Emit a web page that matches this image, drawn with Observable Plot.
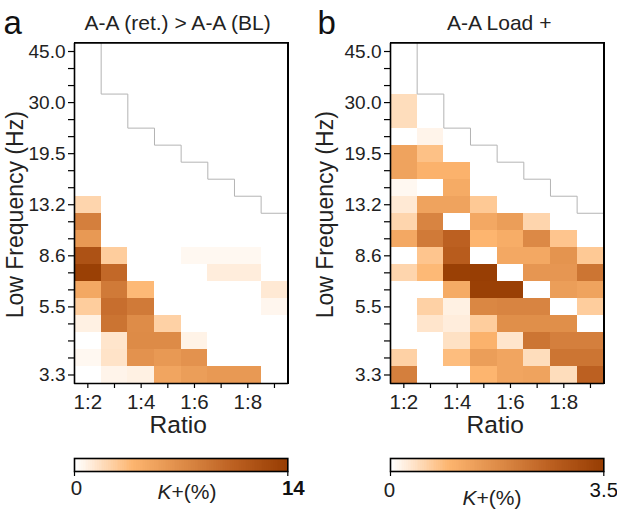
<!DOCTYPE html>
<html><head><meta charset="utf-8">
<script src="https://cdn.jsdelivr.net/npm/d3@7"></script>
<script src="https://cdn.jsdelivr.net/npm/@observablehq/plot@0.6"></script>
<style>
html,body{margin:0;padding:0;background:#fff}
#root{position:relative;width:617px;height:511px;overflow:hidden;font-family:"Liberation Sans",Arial,sans-serif;color:#222}
#root>svg,#root>div{position:absolute}
.klabel{font-size:21px;white-space:nowrap;transform:translateX(-50%)}
.pframe{box-sizing:border-box;border:1.6px solid #000;width:214.9px;height:342.1px;top:42.2px;pointer-events:none}
</style></head><body><div id="root"></div>
<script>
const ratios = [2,3,4,5,6,7,8,9];
const ratioLabels = {2:"1:2",4:"1:4",6:"1:6",8:"1:8"};
const rowTicks = d3.range(0,20);
const rowLabels = {0:"3.3",4:"5.5",7:"8.6",10:"13.2",13:"19.5",16:"30.0",19:"45.0"};
// highest valid row per ratio (staircase boundary)
const boundary = [19,16,14,13,12,11,10,9];

// rows bottom (3.3 Hz) to top, columns 1:2 ... 1:9
const gridA = [
 [0,0.6,0.8,5.0,5.6,6.0,6.0,0],
 [0.4,1.5,6.5,6.0,6.5,0,0,0],
 [0,1.4,7.1,7.1,0.7,0,0,0],
 [0.8,8.9,7.0,2.4,0,0,0,0],
 [2.6,9.3,8.4,0,0,0,0,0.5],
 [4.8,8.4,3.6,0,0,0,0,1.2],
 [13.6,9.8,0,0,0,1.0,1.0,0],
 [11.8,2.6,0,0,0.4,0.4,0.4,0],
 [6.0,0,0,0,0,0,0,0],
 [8.0,0,0,0,0,0,0,0],
 [2.2,0,0,0,0,0,0,0]
];
const gridB = [
 [2.0,0,0,0.95,1.25,1.3,0.45,2.6],
 [0.6,0,0.85,1.4,1.25,0.45,2.2,2.2],
 [0,0,0.4,1.0,0.35,2.2,2.0,2.0],
 [0,0.35,0.25,0.65,1.7,1.7,1.7,0],
 [0,0.6,0.2,1.85,1.9,1.9,0,0.65],
 [0,0,1.15,3.4,3.4,0,1.4,1.3],
 [0.55,0.9,3.4,3.45,0,1.55,1.55,2.2],
 [0,0.75,2.7,0,1.2,1.2,1.6,0.7],
 [1.2,2.1,2.6,0.95,1.1,1.8,0.75,0],
 [0.55,1.9,0,1.2,1.4,0.55,0,0],
 [0.3,1.3,1.3,0.7,0,0,0,0],
 [0.1,0,1.15,0,0,0,0,0],
 [1.3,1.0,1.0,0,0,0,0,0],
 [1.3,0.8,0,0,0,0,0,0],
 [0,0.15,0,0,0,0,0,0],
 [0.45,0,0,0,0,0,0,0],
 [0.45,0,0,0,0,0,0,0]
];
const colorStops = [0,0.06,0.27,0.5,0.75,1];
const colorValues = ["#ffffff","#fff0e2","#fdb56f","#de8c48","#bb5f20","#963c02"];
const FONT = "Liberation Sans";
const INK = "#222";
const xEnds = [1.5,9.5];
const yEnds = [-0.5,19.5];
const border = [[xEnds[0],yEnds[0]],[xEnds[1],yEnds[0]],[xEnds[1],yEnds[1]],[xEnds[0],yEnds[1]],[xEnds[0],yEnds[0]]];

function cells(grid){
  return grid.flatMap((row,r)=>row.map((v,c)=>({r,ratio:ratios[c],v})));
}
function stairs(){
  const pts=[[ratios[1]-0.5,19.5]];
  boundary.slice(1).forEach((b,i)=>{
    pts.push([ratios[i+1]-0.5,b+0.5]);
    pts.push([ratios[i+1]+0.5,b+0.5]);
  });
  return pts;
}
function panel(grid,max,title,letter,left,marginLeft,letterX,titleDx,ratioDx){
  const w=307;
  const chart = Plot.plot({
    width:w,height:440,marginLeft,marginRight:w-marginLeft-213.3,marginTop:42.5,marginBottom:57,
    style:{fontFamily:FONT,background:"transparent",overflow:"visible"},
    x:{type:"linear",domain:xEnds,axis:null},
    y:{type:"linear",domain:yEnds,axis:null},
    color:{type:"linear",domain:colorStops.map(s=>s*max),range:colorValues,interpolate:"rgb",clamp:true},
    marks:[
      Plot.rect(cells(grid).filter(d=>d.v>0),{
        x1:d=>d.ratio-0.5,x2:d=>d.ratio+0.5,y1:d=>d.r-0.5,y2:d=>d.r+0.5,fill:"v",shapeRendering:"crispEdges"}),
      Plot.line(stairs(),{x:d=>d[0],y:d=>d[1],stroke:"#b4b4b4",strokeWidth:1}),
      Plot.line(border,{x:d=>d[0],y:d=>d[1],stroke:"#000",strokeWidth:1.6,strokeLinejoin:"miter"}),
      Plot.axisX(ratios,{anchor:"bottom",tickSize:5,tickPadding:6,tickFormat:d=>ratioLabels[d]||"",fontSize:20.5,stroke:"#000",strokeWidth:1.2,label:null,color:INK}),
      Plot.axisY(rowTicks,{anchor:"left",tickSize:6,tickPadding:3,tickFormat:d=>rowLabels[d]||"",fontSize:19,stroke:"#000",strokeWidth:1.2,label:null,color:INK}),
      Plot.text(["Ratio"],{frameAnchor:"bottom",dx:ratioDx,dy:42,fontSize:24.5,fill:INK,lineAnchor:"middle"}),
      Plot.text(["Low Frequency (Hz)"],{frameAnchor:"left",textAnchor:"middle",dx:-marginLeft+15,dy:1.5,rotate:-90,fontSize:23,fill:INK}),
      Plot.text([title],{frameAnchor:"top",dx:titleDx,dy:-20,fontSize:21,fill:INK,lineAnchor:"middle"}),
      Plot.text([letter],{frameAnchor:"top-left",dx:letterX,dy:-20,fontSize:33,fill:"#111",lineAnchor:"middle",textAnchor:"start"})
    ]
  });
  chart.style.left=left+"px";chart.style.top="0px";
  return chart;
}
function bar(max,maxLabel,maxWeight,left,marginLeft,labelDy,midX,midY){
  const steps=d3.range(0,1,1/120).map(t=>({t}));
  const chart=Plot.plot({
    width:307,height:61,marginLeft,marginRight:307-marginLeft-213.3,marginTop:18,marginBottom:30,
    style:{fontFamily:FONT,background:"transparent",overflow:"visible"},
    x:{type:"linear",domain:[0,max],axis:null},
    y:{axis:null,domain:[0,1]},
    color:{type:"linear",domain:colorStops.map(s=>s*max),range:colorValues,interpolate:"rgb"},
    marks:[
      Plot.rect(steps,{x1:d=>d.t*max,x2:d=>(d.t+1/120)*max,y1:()=>0,y2:()=>1,fill:d=>d.t*max,shapeRendering:"crispEdges"}),
      Plot.frame({stroke:"#000",strokeWidth:1.6}),
      Plot.axisX([0,max],{anchor:"bottom",tickSize:5,tickPadding:3,tickFormat:()=>"",stroke:"#000",strokeWidth:1.2,label:null}),
      Plot.text(["0"],{x:()=>0,frameAnchor:"bottom",dx:maxWeight==="bold"?2:-1,dy:labelDy,fontSize:20.5,fill:INK,lineAnchor:"middle"}),
      Plot.text([maxLabel],{x:()=>max,frameAnchor:"bottom",dx:maxWeight==="bold"?5.5:0,dy:labelDy,fontSize:20.5,fontWeight:maxWeight,fill:"#111",lineAnchor:"middle"})
    ]
  });
  chart.style.left=left+"px";chart.style.top="440px";
  const lab=document.createElement("div");
  lab.className="klabel";lab.innerHTML="<i>K</i>+(%)";
  lab.style.left=midX+"px";lab.style.top=midY+"px";
  document.getElementById("root").append(chart,lab);
}
const root=document.getElementById("root");
root.append(panel(gridA,14,"A-A (ret.) > A-A (BL)","a",0,74,-71,-3.5,-3));
root.append(panel(gridB,3.5,"A-A Load +","b",310,80,-73,2,-2));
for(const l of [73.7,389.7]){
  const f=document.createElement("div");f.className="pframe";f.style.left=l+"px";root.append(f);
}
bar(14,"14","bold",0,74,17,187,480);
bar(3.5,"3.5","normal",310,80,19,492,486);
</script></body></html>
